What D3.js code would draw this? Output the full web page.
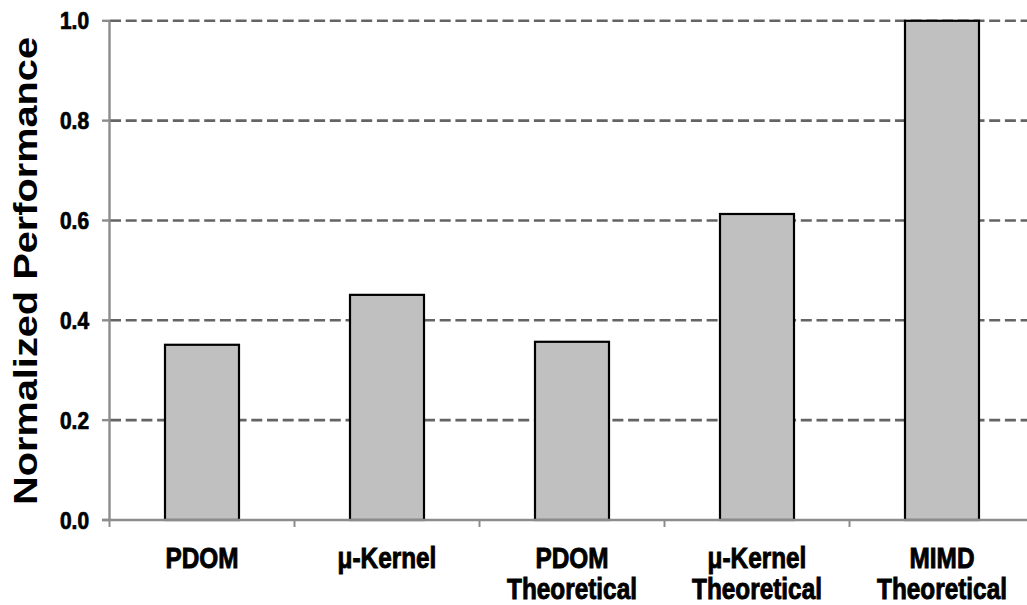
<!DOCTYPE html>
<html><head><meta charset="utf-8">
<script src="https://cdn.jsdelivr.net/npm/d3@7"></script>
<style>
html,body{margin:0;padding:0;background:#fff;overflow:hidden;}
svg{display:block;}
</style></head>
<body>
<svg id="chart" width="1027" height="605"></svg>
<script>
const categories = [["PDOM"], ["μ-Kernel"], ["PDOM", "Theoretical"], ["μ-Kernel", "Theoretical"], ["MIMD", "Theoretical"]];
const values = [0.351, 0.451, 0.357, 0.613, 1.0];
const yTicks = [0.0, 0.2, 0.4, 0.6, 0.8, 1.0];
const yTitle = "Normalized Performance";

const svg = d3.select("#chart");
const x = d3.scaleBand().domain(d3.range(categories.length)).range([109.5, 1034.5]).padding(0);
const y = d3.scaleLinear().domain([0, 1]).range([520, 20.8]);
const barW = x.bandwidth() * 0.4;

const labFont = "'Liberation Sans',Arial,sans-serif";

// gridlines
svg.append("g").selectAll("line").data(yTicks.filter(d => d > 0)).join("line")
  .attr("x1", 110).attr("x2", 1027)
  .attr("y1", d => y(d)).attr("y2", d => y(d))
  .attr("stroke", "#646464").attr("stroke-width", 2.6)
  .attr("stroke-dasharray", "11,4.7");

// y tick marks
svg.append("g").selectAll("line").data(yTicks).join("line")
  .attr("x1", 102).attr("x2", 110)
  .attr("y1", d => y(d)).attr("y2", d => y(d))
  .attr("stroke", "#8c8c8c").attr("stroke-width", 2.4);

// y tick labels
svg.append("g").selectAll("text").data(yTicks).join("text")
  .attr("transform", d => `translate(89,${y(d) + 8.5}) scale(0.95,1.05)`)
  .attr("text-anchor", "end")
  .attr("font-family", labFont).attr("font-weight", "bold").attr("font-size", 22)
  .attr("fill", "#000").attr("stroke", "#000").attr("stroke-width", 0.7)
  .text(d => d.toFixed(1));

// bars
svg.append("g").selectAll("rect").data(values).join("rect")
  .attr("x", (d, i) => x(i) + x.bandwidth() / 2 - barW / 2)
  .attr("width", barW)
  .attr("y", d => y(d))
  .attr("height", d => y(0) - y(d))
  .attr("fill", "#c0c0c0").attr("stroke", "#000").attr("stroke-width", 2.2);

// axes lines
svg.append("line").attr("x1", 109.5).attr("x2", 109.5).attr("y1", y(1)).attr("y2", 520)
  .attr("stroke", "#8c8c8c").attr("stroke-width", 2.4);
svg.append("line").attr("x1", 102).attr("x2", 1027).attr("y1", 520).attr("y2", 520)
  .attr("stroke", "#8c8c8c").attr("stroke-width", 2.6);
// x ticks
svg.append("g").selectAll("line").data(d3.range(categories.length)).join("line")
  .attr("x1", i => x(i)).attr("x2", i => x(i))
  .attr("y1", 520).attr("y2", 527)
  .attr("stroke", "#8c8c8c").attr("stroke-width", 2);

// category labels
const labelLines = [];
categories.forEach((lines, i) => lines.forEach((ln, j) => labelLines.push({i, j, ln})));
svg.append("g").selectAll("text").data(labelLines).join("text")
  .attr("transform", d => `translate(${x(d.i) + x.bandwidth() / 2},${567.5 + d.j * 31.5}) scale(0.84,1)`)
  .attr("text-anchor", "middle")
  .attr("font-family", labFont).attr("font-weight", "bold").attr("font-size", 29)
  .attr("fill", "#000").attr("stroke", "#000").attr("stroke-width", 0.9)
  .text(d => d.ln);

// y title
svg.append("text")
  .attr("transform", "translate(37,271) rotate(-90)")
  .attr("text-anchor", "middle")
  .attr("font-family", "'Liberation Sans',Arial,sans-serif").attr("font-weight", "bold").attr("font-size", 33)
  .attr("textLength", 468).attr("lengthAdjust", "spacingAndGlyphs")
  .attr("fill", "#000")
  .text(yTitle);
</script>
</body></html>
